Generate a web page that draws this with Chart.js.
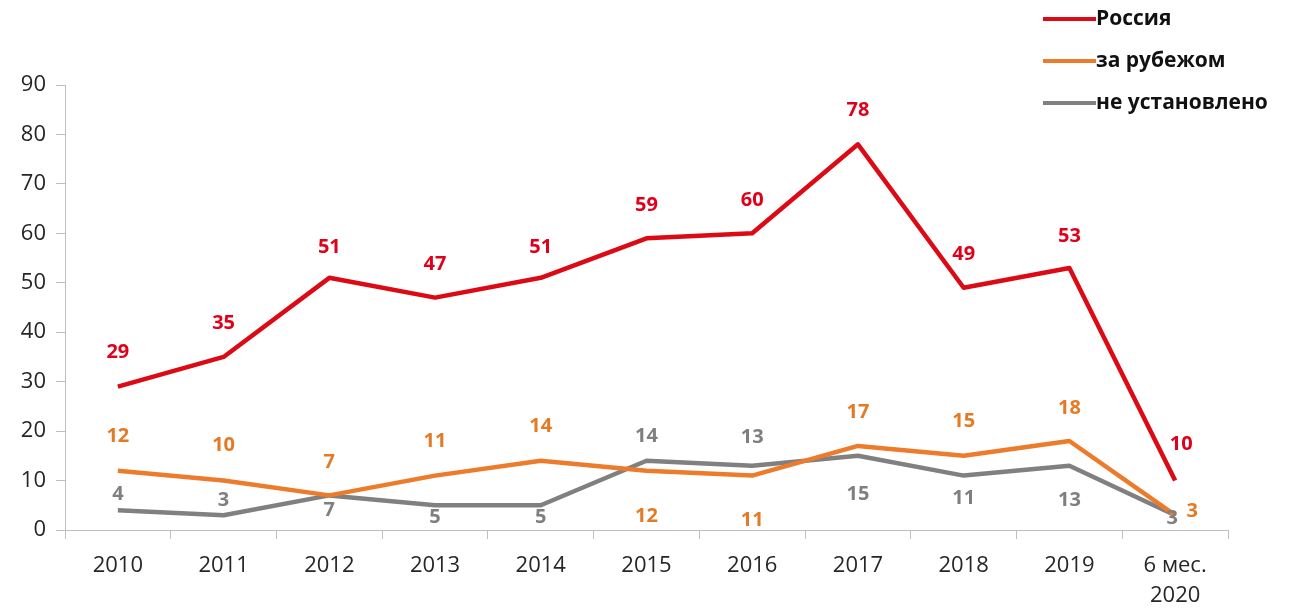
<!DOCTYPE html>
<html>
<head>
<meta charset="utf-8">
<script src="https://cdn.jsdelivr.net/npm/chart.js@4"></script>
<style>
  html, body { margin: 0; padding: 0; background: #fff; }
  #wrap { width: 1295px; height: 610px; position: relative; }
</style>
</head>
<body>
<div id="wrap"><canvas id="chart"></canvas></div>
<script>
// ── Data ─────────────────────────
const categories = ['2010', '2011', '2012', '2013', '2014', '2015', '2016', '2017', '2018', '2019', ['6 мес.', '2020']];
const russia  = [29, 35, 51, 47, 51, 59, 60, 78, 49, 53, 10];
const abroad  = [12, 10, 7, 11, 14, 12, 11, 17, 15, 18, 3];
const unknown = [4, 3, 7, 5, 5, 14, 13, 15, 11, 13, 3];
const seriesNames = ['Россия', 'за рубежом', 'не установлено'];

const RED = '#dc0a14';
const ORANGE = '#ec7c2c';
const GRAY = '#808080';
const FONT = '"Open Sans", "DejaVu Sans", sans-serif';

// label offsets (dx, dy) relative to each point, like Excel's manual placement
const redOffsets    = [[0,-34],[0,-34],[0,-31],[0,-33],[0,-31],[0,-33],[0,-33],[0,-34],[0,-33],[0,-32],[6,-36]];
const orangeOffsets = [[0,-34],[0,-35],[0,-33],[0,-34],[0,-34],[0,46],[0,45],[0,-34],[0,-35],[0,-33],[17,-4]];
const grayOffsets   = [[0,-16],[0,-15],[0,15],[0,12],[0,12],[0,-24],[0,-28],[0,38],[0,23],[0,35],[-3,3]];

// ── Point labels ─────────────────────────
const pointLabels = {
  id: 'pointLabels',
  afterDatasetsDraw(chart) {
    const ctx = chart.ctx;
    ctx.save();
    ctx.font = 'bold 20px ' + FONT;
    ctx.textAlign = 'center';
    ctx.textBaseline = 'middle';
    chart.data.datasets.forEach((ds, i) => {
      const meta = chart.getDatasetMeta(i);
      ctx.fillStyle = ds.labelColor;
      meta.data.forEach((pt, j) => {
        const [dx, dy] = ds.labelOffsets[j];
        ctx.fillText(String(ds.data[j]), pt.x + dx, pt.y + dy);
      });
    });
    ctx.restore();
  }
};

// ── Legend (top right) ─────────────────────────
const cornerLegend = {
  id: 'cornerLegend',
  afterDraw(chart) {
    const ctx = chart.ctx;
    ctx.save();
    ctx.font = 'bold 21px ' + FONT;
    ctx.textBaseline = 'middle';
    ctx.textAlign = 'left';
    chart.data.datasets.forEach((ds, i) => {
      const y = 19 + i * 42;
      ctx.strokeStyle = ds.borderColor;
      ctx.lineWidth = 4;
      ctx.beginPath();
      ctx.moveTo(1043, y);
      ctx.lineTo(1096, y);
      ctx.stroke();
      ctx.fillStyle = '#111';
      ctx.fillText(ds.label, 1096, y);
    });
    ctx.restore();
  }
};

const mkSet = (label, data, color, labelColor, offsets) => ({
  label, data,
  borderColor: color,
  backgroundColor: color,
  borderWidth: 4.5,
  tension: 0,
  pointRadius: 0,
  borderJoinStyle: 'round',
  labelColor,
  labelOffsets: offsets,
});

new Chart(document.getElementById('chart'), {
  type: 'line',
  data: {
    labels: categories,
    datasets: [
      mkSet(seriesNames[0], russia, RED, '#e0001a', redOffsets),
      mkSet(seriesNames[1], abroad, ORANGE, '#e47a24', orangeOffsets),
      mkSet(seriesNames[2], unknown, GRAY, '#7f7f7f', grayOffsets),
    ]
  },
  plugins: [pointLabels, cornerLegend],
  options: {
    responsive: true,
    maintainAspectRatio: false,
    animation: false,
    layout: { padding: { top: 85, right: 67, left: 0, bottom: 0 } },
    plugins: {
      legend: { display: false },
      tooltip: { enabled: false }
    },
    scales: {
      x: {
        offset: true,
        border: { color: '#bfbfbf', width: 1 },
        grid: { display: true, drawOnChartArea: false, offset: true, tickLength: 9, color: '#bfbfbf' },
        ticks: {
          color: '#262626',
          font: { family: FONT, size: 22, lineHeight: 1.35 },
          padding: 12,
          maxRotation: 0,
          autoSkip: false
        },
        afterFit: s => { s.height = 80; }
      },
      y: {
        min: 0,
        max: 90,
        border: { color: '#bfbfbf', width: 1 },
        grid: { display: true, drawOnChartArea: false, tickLength: 9, color: '#bfbfbf' },
        ticks: {
          stepSize: 10,
          color: '#262626',
          font: { family: FONT, size: 22 },
          padding: 10
        },
        afterFit: s => { s.width = 65; }
      }
    }
  }
});
</script>
</body>
</html>
